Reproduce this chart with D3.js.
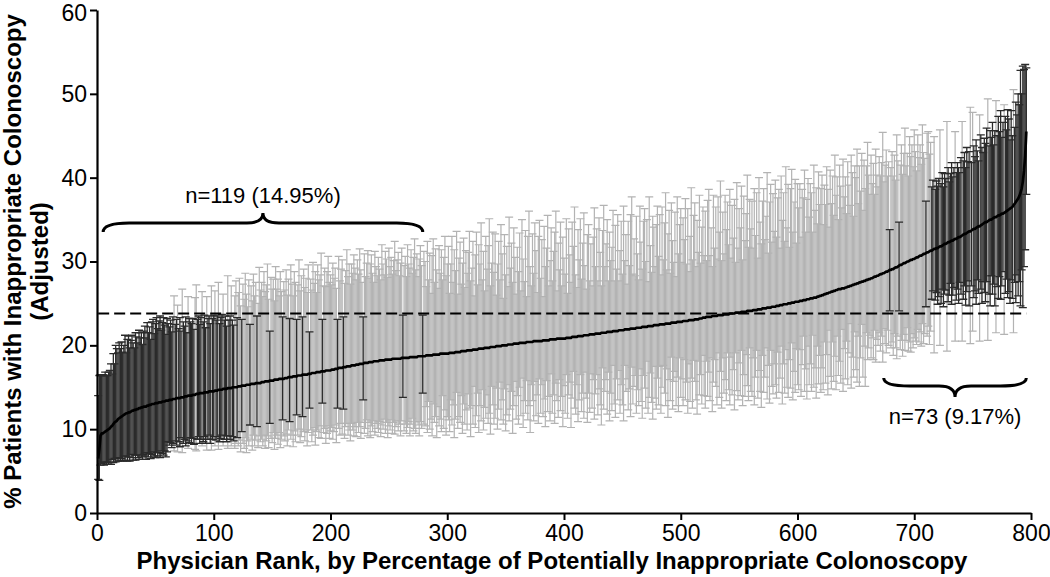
<!DOCTYPE html>
<html>
<head>
<meta charset="utf-8">
<script src="https://cdn.jsdelivr.net/npm/d3@7"></script>
<style>
  body { margin: 0; background: #fff; }
  svg text { font-family: "Liberation Sans", Arial, Helvetica, sans-serif; fill: #000; }
</style>
</head>
<body>
<svg id="chart" width="1050" height="577"></svg>
<script>
// adjusted % of potentially inappropriate colonoscopy, one value per physician, sorted by rank
const estimate = [
  6.5, 7.6, 9.2, 9.5, 9.5, 9.6, 9.7, 9.8, 9.9, 10.0, 10.1, 10.3, 10.4, 10.6, 10.8, 10.9, 11.0, 11.2, 11.3, 11.4,
  11.5, 11.6, 11.7, 11.8, 11.9, 11.9, 12.0, 12.0, 12.1, 12.2, 12.2, 12.3, 12.3, 12.4, 12.4, 12.5, 12.5, 12.6, 12.6, 12.7,
  12.7, 12.7, 12.8, 12.8, 12.9, 12.9, 13.0, 13.0, 13.0, 13.1, 13.1, 13.1, 13.2, 13.2, 13.2, 13.3, 13.3, 13.3, 13.4, 13.4,
  13.4, 13.5, 13.5, 13.5, 13.6, 13.6, 13.6, 13.7, 13.7, 13.7, 13.7, 13.8, 13.8, 13.8, 13.9, 13.9, 13.9, 14.0, 14.0, 14.0,
  14.0, 14.1, 14.1, 14.1, 14.2, 14.2, 14.2, 14.3, 14.3, 14.3, 14.3, 14.4, 14.4, 14.4, 14.4, 14.5, 14.5, 14.5, 14.5, 14.5,
  14.6, 14.6, 14.6, 14.7, 14.7, 14.7, 14.7, 14.8, 14.8, 14.8, 14.8, 14.9, 14.9, 14.9, 14.9, 15.0, 15.0, 15.0, 15.0, 15.0,
  15.1, 15.1, 15.1, 15.2, 15.2, 15.2, 15.2, 15.3, 15.3, 15.3, 15.3, 15.4, 15.4, 15.4, 15.4, 15.5, 15.5, 15.5, 15.5, 15.5,
  15.6, 15.6, 15.6, 15.7, 15.7, 15.7, 15.7, 15.8, 15.8, 15.8, 15.8, 15.9, 15.9, 15.9, 15.9, 16.0, 16.0, 16.0, 16.0, 16.0,
  16.1, 16.1, 16.1, 16.2, 16.2, 16.2, 16.2, 16.3, 16.3, 16.3, 16.3, 16.4, 16.4, 16.4, 16.4, 16.5, 16.5, 16.5, 16.5, 16.5,
  16.6, 16.6, 16.6, 16.7, 16.7, 16.7, 16.7, 16.8, 16.8, 16.8, 16.8, 16.9, 16.9, 16.9, 16.9, 17.0, 17.0, 17.0, 17.0, 17.0,
  17.1, 17.1, 17.1, 17.2, 17.2, 17.2, 17.3, 17.3, 17.3, 17.3, 17.4, 17.4, 17.4, 17.5, 17.5, 17.5, 17.5, 17.6, 17.6, 17.6,
  17.6, 17.7, 17.7, 17.7, 17.8, 17.8, 17.8, 17.8, 17.9, 17.9, 17.9, 17.9, 18.0, 18.0, 18.0, 18.0, 18.1, 18.1, 18.1, 18.1,
  18.1, 18.2, 18.2, 18.2, 18.2, 18.2, 18.3, 18.3, 18.3, 18.3, 18.3, 18.3, 18.4, 18.4, 18.4, 18.4, 18.4, 18.4, 18.4, 18.4,
  18.5, 18.5, 18.5, 18.5, 18.5, 18.5, 18.5, 18.6, 18.6, 18.6, 18.6, 18.6, 18.6, 18.6, 18.7, 18.7, 18.7, 18.7, 18.7, 18.7,
  18.7, 18.8, 18.8, 18.8, 18.8, 18.8, 18.8, 18.9, 18.9, 18.9, 18.9, 18.9, 18.9, 19.0, 19.0, 19.0, 19.0, 19.0, 19.0, 19.0,
  19.0, 19.1, 19.1, 19.1, 19.1, 19.1, 19.2, 19.2, 19.2, 19.2, 19.2, 19.3, 19.3, 19.3, 19.3, 19.3, 19.4, 19.4, 19.4, 19.4,
  19.4, 19.5, 19.5, 19.5, 19.5, 19.5, 19.6, 19.6, 19.6, 19.6, 19.6, 19.7, 19.7, 19.7, 19.7, 19.7, 19.8, 19.8, 19.8, 19.8,
  19.8, 19.9, 19.9, 19.9, 19.9, 19.9, 20.0, 20.0, 20.0, 20.0, 20.0, 20.1, 20.1, 20.1, 20.1, 20.1, 20.2, 20.2, 20.2, 20.2,
  20.2, 20.3, 20.3, 20.3, 20.3, 20.3, 20.3, 20.4, 20.4, 20.4, 20.4, 20.4, 20.4, 20.5, 20.5, 20.5, 20.5, 20.5, 20.5, 20.5,
  20.5, 20.6, 20.6, 20.6, 20.6, 20.6, 20.6, 20.7, 20.7, 20.7, 20.7, 20.7, 20.7, 20.8, 20.8, 20.8, 20.8, 20.8, 20.8, 20.8,
  20.8, 20.9, 20.9, 20.9, 20.9, 20.9, 21.0, 21.0, 21.0, 21.0, 21.0, 21.1, 21.1, 21.1, 21.1, 21.1, 21.2, 21.2, 21.2, 21.2,
  21.2, 21.3, 21.3, 21.3, 21.3, 21.3, 21.4, 21.4, 21.4, 21.4, 21.4, 21.5, 21.5, 21.5, 21.5, 21.5, 21.6, 21.6, 21.6, 21.6,
  21.6, 21.7, 21.7, 21.7, 21.7, 21.7, 21.8, 21.8, 21.8, 21.8, 21.8, 21.9, 21.9, 21.9, 21.9, 21.9, 22.0, 22.0, 22.0, 22.0,
  22.0, 22.1, 22.1, 22.1, 22.1, 22.1, 22.2, 22.2, 22.2, 22.2, 22.2, 22.3, 22.3, 22.3, 22.3, 22.3, 22.4, 22.4, 22.4, 22.4,
  22.4, 22.5, 22.5, 22.5, 22.5, 22.5, 22.6, 22.6, 22.6, 22.6, 22.6, 22.7, 22.7, 22.7, 22.7, 22.7, 22.8, 22.8, 22.8, 22.8,
  22.8, 22.9, 22.9, 22.9, 22.9, 22.9, 23.0, 23.0, 23.0, 23.0, 23.0, 23.1, 23.1, 23.1, 23.1, 23.2, 23.2, 23.2, 23.3, 23.3,
  23.3, 23.4, 23.4, 23.4, 23.4, 23.4, 23.5, 23.5, 23.5, 23.5, 23.5, 23.6, 23.6, 23.6, 23.6, 23.6, 23.7, 23.7, 23.7, 23.7,
  23.7, 23.8, 23.8, 23.8, 23.8, 23.8, 23.9, 23.9, 23.9, 23.9, 23.9, 24.0, 24.0, 24.0, 24.0, 24.0, 24.1, 24.1, 24.1, 24.1,
  24.1, 24.2, 24.2, 24.2, 24.2, 24.3, 24.3, 24.3, 24.3, 24.4, 24.4, 24.4, 24.4, 24.5, 24.5, 24.5, 24.5, 24.6, 24.6, 24.6,
  24.6, 24.7, 24.7, 24.7, 24.8, 24.8, 24.8, 24.9, 24.9, 24.9, 24.9, 25.0, 25.0, 25.0, 25.1, 25.1, 25.1, 25.2, 25.2, 25.2,
  25.2, 25.3, 25.3, 25.3, 25.4, 25.4, 25.4, 25.5, 25.5, 25.5, 25.6, 25.6, 25.6, 25.7, 25.7, 25.7, 25.8, 25.8, 25.9, 25.9,
  26.0, 26.0, 26.1, 26.1, 26.2, 26.2, 26.3, 26.3, 26.4, 26.4, 26.5, 26.5, 26.6, 26.6, 26.7, 26.7, 26.7, 26.8, 26.8, 26.8,
  26.9, 26.9, 27.0, 27.0, 27.1, 27.1, 27.2, 27.2, 27.3, 27.3, 27.4, 27.4, 27.5, 27.5, 27.6, 27.6, 27.7, 27.7, 27.8, 27.8,
  27.9, 27.9, 28.0, 28.0, 28.1, 28.2, 28.2, 28.3, 28.3, 28.4, 28.5, 28.5, 28.6, 28.6, 28.7, 28.8, 28.8, 28.9, 29.0, 29.0,
  29.1, 29.1, 29.2, 29.3, 29.3, 29.4, 29.5, 29.6, 29.6, 29.7, 29.8, 29.8, 29.9, 30.0, 30.0, 30.1, 30.2, 30.2, 30.3, 30.3,
  30.4, 30.5, 30.5, 30.6, 30.7, 30.7, 30.8, 30.9, 30.9, 31.0, 31.1, 31.1, 31.2, 31.3, 31.3, 31.4, 31.5, 31.5, 31.6, 31.6,
  31.7, 31.8, 31.8, 31.9, 32.0, 32.1, 32.1, 32.2, 32.3, 32.3, 32.4, 32.5, 32.5, 32.6, 32.7, 32.7, 32.8, 32.9, 32.9, 33.0,
  33.1, 33.2, 33.3, 33.3, 33.4, 33.5, 33.6, 33.6, 33.7, 33.8, 33.9, 33.9, 34.0, 34.1, 34.2, 34.2, 34.3, 34.4, 34.5, 34.6,
  34.7, 34.7, 34.8, 34.9, 35.0, 35.0, 35.1, 35.2, 35.3, 35.3, 35.4, 35.5, 35.5, 35.6, 35.7, 35.7, 35.8, 35.9, 36.0, 36.1,
  36.2, 36.3, 36.4, 36.5, 36.7, 36.9, 37.1, 37.3, 37.5, 37.8, 38.2, 38.7, 39.5, 40.8, 42.6, 45.5
];

// distance from the estimate up to the upper confidence limit
const errAbove = [
  7.5, 8.8, 7.3, 6.9, 7.0, 6.8, 7.1, 6.6, 6.5, 6.8, 6.9, 7.5, 6.2, 8.4, 7.0, 9.1, 8.6, 7.9, 9.0, 8.2,
  8.9, 7.6, 8.3, 9.4, 7.2, 8.8, 9.1, 7.7, 8.5, 9.0, 8.1, 7.4, 9.2, 8.6, 7.9, 9.3, 8.4, 8.9, 7.5, 9.0,
  9.6, 8.2, 9.9, 8.7, 9.3, 7.8, 9.8, 10.1, 8.4, 9.5, 10.2, 8.9, 9.7, 10.3, 8.6, 9.4, 10.0, 9.1, 7.9, 9.8,
  9.2, 8.7, 9.5, 8.1, 9.8, 12.3, 8.9, 9.4, 11.1, 8.3, 9.6, 7.9, 12.9, 9.0, 8.4, 9.5, 7.6, 11.8, 9.2, 8.8,
  8.6, 9.1, 7.8, 11.6, 13.0, 8.9, 9.3, 8.2, 9.0, 12.1, 8.5, 9.2, 7.7, 11.4, 8.8, 9.0, 8.1, 12.6, 8.7, 9.1,
  11.9, 8.4, 8.9, 12.8, 7.9, 8.6, 9.0, 11.3, 8.2, 8.7, 7.5, 13.4, 8.1, 8.6, 12.2, 8.0, 7.4, 10.9, 12.7, 8.3,
  11.2, 12.9, 9.6, 7.9, 12.1, 10.3, 13.4, 10.8, 9.3, 12.5, 7.2, 11.7, 9.9, 13.1, 10.5, 12.0, 8.0, 9.5, 13.8, 11.1,
  11.9, 10.2, 13.2, 10.7, 11.5, 14.0, 9.8, 5.9, 12.3, 10.9, 12.1, 9.4, 13.5, 10.8, 12.0, 9.9, 12.8, 10.4, 7.4, 11.6,
  10.5, 12.9, 9.9, 11.7, 7.0, 13.4, 11.1, 9.6, 12.5, 11.2, 6.8, 10.8, 13.8, 10.1, 11.9, 6.9, 12.6, 10.4, 11.5, 9.8,
  13.0, 5.0, 11.3, 9.9, 13.2, 10.7, 12.1, 9.5, 12.8, 11.0, 11.6, 14.1, 6.2, 10.2, 12.3, 10.0, 11.8, 13.6, 10.5, 11.4,
  10.1, 12.7, 10.9, 12.0, 9.6, 5.9, 13.3, 10.4, 11.8, 12.9, 6.0, 10.0, 11.5, 13.9, 10.7, 12.2, 9.8, 12.1, 11.0, 13.2,
  11.6, 10.1, 12.5, 10.8, 13.7, 11.2, 9.7, 5.6, 13.0, 10.3, 11.9, 13.4, 10.0, 11.7, 12.8, 10.6, 9.4, 13.1, 11.3, 10.2,
  12.4, 10.9, 9.6, 13.8, 11.5, 10.2, 12.9, 12.0, 9.8, 13.3, 11.1, 12.2, 10.1, 11.7, 14.0, 10.5, 11.8, 12.7, 9.9, 11.4,
  13.1, 5.1, 11.0, 12.1, 9.7, 13.5, 11.2, 10.6, 12.8, 10.0, 11.9, 14.1, 10.4, 12.3, 9.5, 11.6, 13.2, 10.8, 4.9, 12.5,
  11.3, 8.2, 13.6, 9.0, 12.2, 7.4, 11.9, 13.8, 8.6, 12.6, 10.1, 7.9, 13.0, 9.6, 12.4, 8.8, 11.5, 14.0, 9.3, 10.7,
  12.8, 7.1, 10.6, 13.9, 8.4, 12.3, 9.7, 14.4, 6.9, 11.2, 13.1, 8.0, 10.5, 13.5, 7.6, 12.0, 9.2, 11.7, 14.2, 8.3,
  9.8, 12.9, 6.4, 11.3, 14.0, 7.7, 12.4, 10.1, 15.0, 8.2, 11.6, 6.8, 13.3, 9.4, 12.2, 15.4, 7.3, 10.0, 13.7, 8.9,
  13.5, 6.1, 9.8, 12.5, 7.9, 14.5, 10.9, 5.6, 13.2, 8.4, 11.8, 6.9, 15.2, 9.1, 12.1, 7.4, 13.8, 10.3, 5.9, 11.5,
  8.6, 13.1, 6.2, 14.7, 10.0, 7.3, 13.4, 5.4, 12.6, 15.6, 9.0, 6.7, 12.9, 8.1, 14.1, 10.8, 5.8, 12.5, 14.4, 7.5,
  12.1, 5.2, 13.6, 8.8, 11.0, 14.9, 6.5, 9.4, 13.3, 7.0, 10.5, 12.8, 15.3, 5.7, 11.4, 8.2, 13.9, 6.3, 12.1, 9.6,
  7.7, 14.2, 5.3, 13.0, 9.9, 6.6, 13.7, 10.8, 15.5, 7.4, 5.9, 12.7, 9.1, 14.0, 6.8, 11.1, 14.6, 8.3, 5.5, 12.0,
  13.2, 6.4, 10.8, 5.8, 11.6, 15.1, 8.0, 12.5, 6.3, 13.8, 9.7, 5.6, 12.2, 15.2, 7.9, 10.6, 13.4, 6.1, 11.9, 8.5,
  10.1, 14.4, 6.0, 12.6, 7.4, 13.9, 5.9, 9.5, 13.0, 6.7, 14.8, 8.2, 11.3, 5.4, 12.9, 7.6, 13.6, 15.7, 6.5, 10.7,
  6.3, 13.3, 8.8, 5.7, 14.5, 10.2, 6.9, 12.6, 14.1, 7.8, 12.8, 5.3, 15.4, 9.6, 6.4, 13.1, 11.7, 7.0, 12.0, 14.2,
  8.2, 13.1, 5.9, 14.0, 7.7, 12.1, 15.6, 6.4, 10.7, 13.5, 6.0, 14.3, 9.8, 7.2, 13.2, 5.5, 14.9, 8.1, 11.6, 13.5,
  7.1, 12.3, 9.7, 14.6, 6.8, 13.4, 5.8, 10.0, 15.8, 7.2, 12.5, 13.9, 6.3, 11.8, 8.0, 14.7, 6.6, 10.9, 13.2, 7.4,
  12.7, 6.7, 13.9, 15.2, 7.3, 10.6, 5.9, 14.4, 8.1, 13.0, 6.8, 14.1, 9.9, 16.0, 6.5, 12.3, 7.2, 14.2, 10.1, 13.4,
  8.3, 14.8, 6.6, 12.9, 9.0, 13.6, 6.0, 15.5, 7.7, 12.4, 10.1, 15.0, 6.2, 13.8, 8.5, 11.7, 16.2, 7.6, 13.3, 9.8,
  13.1, 7.4, 14.5, 8.9, 14.0, 6.1, 15.7, 10.4, 7.8, 12.8, 14.3, 8.2, 11.0, 16.1, 6.5, 12.6, 14.7, 7.7, 13.5, 9.0,
  15.1, 8.2, 12.9, 13.9, 6.8, 15.4, 10.1, 13.3, 7.5, 16.4, 9.1, 14.2, 6.7, 13.7, 15.9, 8.4, 12.0, 14.6, 7.0, 14.1,
  11.2, 14.0, 7.6, 13.3, 12.2, 15.5, 8.1, 11.9, 14.4, 9.8, 13.7, 12.6, 7.9, 15.8, 10.4, 13.1, 8.7, 14.9, 10.9, 12.8,
  14.3, 8.4, 13.0, 10.7, 15.1, 12.4, 7.8, 14.6, 10.5, 13.8, 9.0, 16.2, 11.3, 13.5, 8.3, 14.8, 12.3, 9.6, 15.4, 10.9,
  13.2, 8.8, 14.9, 12.1, 9.6, 15.6, 13.4, 8.2, 14.1, 12.7, 16.0, 9.5, 13.9, 10.9, 15.3, 8.5, 14.4, 11.0, 13.6, 16.4,
  12.4, 10.1, 14.7, 11.3, 13.6, 9.8, 15.2, 12.0, 10.6, 14.1, 11.7, 13.3, 16.8, 10.9, 12.8, 14.5, 11.4, 13.0, 4.8, 12.2,
  14.0, 11.1, 13.5, 10.4, 15.8, 12.6, 5.2, 11.9, 14.3, 10.7, 13.1, 16.1, 11.5, 12.9, 10.2, 14.8, 12.3, 13.7, 11.0, 15.4,
  12.7, 10.3, 14.6, 11.8, 13.2, 10.9, 15.5, 12.1, 11.4, 6.2, 14.2, 14.4, 11.6, 12.9, 7.6, 8.3, 13.4, 7.1, 8.0, 7.4,
  8.2, 13.9, 7.5, 8.7, 6.9, 8.4, 7.8, 14.5, 8.9, 7.2, 8.1, 9.3, 7.6, 8.6, 12.8, 7.9, 9.0, 8.3, 7.7, 9.4,
  13.6, 8.8, 9.7, 7.9, 10.2, 8.4, 9.5, 14.8, 8.1, 14.0, 9.9, 8.6, 10.5, 9.1, 7.8, 13.3, 10.8, 9.2, 8.5, 10.1,
  9.4, 11.2, 14.6, 8.9, 10.6, 9.8, 11.5, 8.7, 10.3, 13.9, 9.6, 11.8, 10.0, 12.4, 9.1, 10.9, 12.9, 11.4, 9.7, 12.0,
  10.8, 8.2, 11.6, 8.5, 13.8, 9.1, 11.9, 10.2, 12.5, 10.9, 14.6, 11.3, 13.8, 12.1, 10.9, 7.6
];

// distance from the estimate down to the lower confidence limit
const errBelow = [
  2.5, 3.7, 3.5, 3.6, 3.4, 3.9, 3.7, 4.0, 3.8, 4.2, 4.1, 4.5, 4.0, 4.6, 4.3, 4.8, 4.5, 5.0, 4.7, 5.2,
  5.0, 5.4, 4.9, 5.5, 5.2, 5.7, 5.3, 5.8, 5.1, 5.6, 5.9, 5.4, 6.0, 5.5, 5.8, 6.1, 5.6, 5.9, 6.2, 5.7,
  5.9, 6.3, 5.6, 6.1, 5.8, 6.4, 6.0, 5.7, 6.2, 6.5, 5.9, 6.3, 6.0, 6.6, 5.8, 6.2, 6.4, 5.9, 6.7, 6.1,
  4.9, 5.4, 5.1, 5.7, 5.3, 6.2, 5.0, 5.6, 6.4, 5.2, 5.8, 4.8, 6.6, 5.5, 5.1, 5.9, 5.3, 6.3, 5.6, 5.0,
  5.7, 5.2, 5.9, 6.5, 6.8, 5.4, 5.1, 6.0, 5.5, 6.3, 5.8, 5.3, 6.1, 6.9, 5.6, 5.2, 6.2, 7.0, 5.7, 5.4,
  6.6, 5.9, 5.5, 7.1, 6.2, 5.8, 5.4, 6.8, 6.0, 5.6, 6.3, 7.2, 5.7, 6.1, 6.9, 5.9, 6.4, 7.3, 6.7, 6.0,
  7.1, 6.4, 7.8, 5.5, 6.9, 7.5, 6.2, 8.1, 6.7, 7.3, 4.8, 6.6, 7.9, 6.1, 7.4, 6.8, 5.2, 7.7, 6.3, 7.0,
  6.8, 7.6, 6.3, 8.0, 7.1, 6.5, 7.9, 5.1, 6.9, 7.4, 6.2, 8.3, 7.0, 6.6, 7.7, 6.4, 8.2, 7.2, 4.9, 6.8,
  7.5, 6.7, 8.1, 6.3, 5.3, 7.4, 6.9, 8.4, 6.5, 7.8, 4.6, 7.1, 6.4, 8.0, 7.3, 5.0, 6.8, 7.9, 6.6, 8.5,
  7.0, 4.1, 6.7, 8.2, 7.4, 6.5, 8.6, 7.1, 6.9, 7.8, 6.4, 8.0, 3.8, 7.3, 6.8, 8.7, 7.5, 6.6, 8.1, 7.2,
  6.9, 8.3, 7.4, 6.7, 8.8, 4.7, 7.2, 8.0, 6.6, 7.9, 5.0, 8.5, 7.1, 6.8, 8.2, 7.6, 8.9, 6.9, 7.7, 8.4,
  7.3, 8.6, 6.9, 8.1, 7.5, 8.9, 7.0, 4.3, 8.4, 7.8, 6.8, 8.7, 7.2, 9.0, 7.6, 8.3, 7.1, 8.8, 7.4, 8.0,
  8.5, 7.3, 9.1, 7.7, 8.2, 7.0, 8.8, 7.5, 9.3, 7.9, 8.4, 7.2, 8.9, 7.6, 9.0, 8.1, 7.4, 8.6, 7.8, 9.2,
  7.5, 4.7, 8.7, 7.9, 9.0, 8.3, 7.6, 9.4, 8.0, 7.3, 8.8, 8.5, 9.1, 7.7, 8.2, 9.5, 7.8, 8.6, 4.4, 8.1,
  8.3, 6.1, 9.2, 5.5, 8.8, 7.6, 9.6, 5.9, 8.1, 7.4, 9.9, 6.2, 8.5, 7.8, 9.3, 5.0, 8.9, 6.7, 9.7, 7.5,
  7.9, 9.4, 5.6, 8.6, 6.2, 10.1, 8.0, 4.8, 9.1, 7.7, 8.4, 5.3, 9.8, 6.3, 8.7, 7.0, 9.5, 5.2, 6.9, 10.3,
  6.6, 8.9, 4.4, 9.3, 7.9, 5.2, 10.0, 6.8, 8.6, 4.9, 9.7, 7.1, 8.4, 5.6, 9.0, 7.8, 10.4, 4.7, 6.9, 9.2,
  8.5, 5.0, 9.9, 7.5, 4.3, 8.8, 6.5, 9.4, 5.2, 10.2, 8.3, 4.8, 9.1, 7.7, 5.6, 10.6, 7.4, 4.5, 9.0, 6.2,
  9.6, 5.3, 8.7, 4.2, 10.1, 6.9, 8.4, 4.6, 9.3, 7.6, 10.8, 5.1, 7.0, 9.5, 4.8, 8.9, 6.4, 9.8, 4.5, 8.6,
  5.2, 9.1, 7.0, 10.3, 4.8, 8.5, 6.7, 9.7, 4.1, 8.8, 6.6, 10.0, 5.2, 7.4, 9.4, 4.9, 8.6, 6.9, 10.5, 5.6,
  8.9, 4.4, 9.6, 6.8, 5.3, 10.7, 7.3, 4.1, 8.5, 9.2, 5.7, 10.2, 7.6, 4.6, 9.0, 6.8, 9.9, 4.4, 7.5, 10.4,
  6.9, 9.3, 4.7, 8.8, 5.4, 10.1, 7.2, 4.9, 9.7, 6.6, 8.5, 11.0, 4.2, 9.1, 7.0, 5.6, 9.8, 4.8, 10.6, 7.3,
  9.4, 4.1, 8.7, 10.3, 5.7, 8.2, 4.8, 9.9, 6.5, 8.9, 10.8, 4.3, 7.4, 5.9, 9.6, 7.1, 10.5, 4.6, 9.0, 6.9,
  5.6, 10.2, 7.4, 9.3, 4.9, 8.8, 10.9, 5.8, 7.3, 9.7, 4.1, 10.4, 8.5, 5.6, 9.1, 11.1, 4.9, 8.7, 10.0, 6.3,
  9.5, 5.0, 10.6, 7.5, 4.9, 8.2, 9.8, 5.4, 11.2, 6.7, 9.2, 4.1, 10.3, 7.0, 5.8, 9.9, 6.6, 10.7, 4.3, 9.0,
  6.8, 10.1, 4.6, 9.4, 7.3, 11.0, 5.2, 9.7, 6.9, 10.5, 4.8, 7.4, 9.6, 11.3, 5.0, 9.1, 6.7, 10.2, 4.5, 9.3,
  10.8, 5.3, 9.5, 6.6, 10.0, 4.9, 11.4, 7.9, 5.2, 8.4, 10.6, 4.5, 9.8, 6.7, 11.1, 5.1, 9.4, 7.8, 10.3, 4.6,
  9.0, 10.9, 5.2, 9.7, 6.7, 11.5, 4.8, 9.3, 10.4, 6.0, 9.9, 4.6, 11.2, 7.5, 10.1, 5.1, 8.9, 10.7, 4.4, 9.6,
  10.2, 5.7, 11.3, 8.0, 4.8, 10.6, 7.3, 9.8, 11.7, 5.6, 10.0, 8.2, 4.7, 10.9, 6.9, 11.4, 5.1, 9.5, 10.4, 6.8,
  9.3, 11.0, 5.5, 10.3, 8.7, 4.9, 11.8, 7.1, 10.6, 5.4, 9.9, 11.2, 6.7, 10.1, 4.8, 11.6, 8.2, 10.8, 5.6, 9.9,
  10.5, 5.8, 11.4, 7.6, 4.3, 10.9, 8.2, 11.9, 5.6, 10.2, 7.8, 11.1, 4.4, 10.7, 8.4, 12.0, 5.9, 10.4, 7.1, 11.5,
  8.7, 11.3, 5.7, 10.6, 7.3, 12.1, 4.5, 10.0, 11.6, 6.0, 10.8, 7.8, 11.9, 5.5, 10.3, 8.6, 11.2, 4.9, 12.3, 7.2,
  10.9, 6.4, 11.7, 7.9, 4.5, 12.2, 8.6, 11.0, 5.7, 10.2, 11.8, 6.3, 12.4, 9.0, 5.1, 11.4, 7.8, 12.6, 6.3, 9.5,
  8.2, 6.7, 9.5, 7.1, 9.8, 6.4, 10.2, 7.6, 8.3, 6.9, 9.2, 7.4, 10.6, 6.6, 8.5, 9.7, 7.0, 8.9, 4.9, 9.3,
  8.7, 10.3, 7.8, 9.6, 10.9, 8.3, 5.4, 10.1, 9.0, 11.0, 8.5, 10.4, 9.3, 7.9, 10.7, 9.7, 11.0, 8.8, 10.6, 9.4,
  9.9, 10.4, 8.6, 10.2, 9.1, 10.8, 8.2, 10.7, 9.5, 6.4, 10.0, 8.8, 11.1, 9.6, 5.8, 4.9, 12.4, 6.1, 5.3, 6.7,
  5.9, 11.8, 6.8, 5.2, 7.4, 6.0, 5.5, 12.9, 7.1, 6.3, 5.0, 7.6, 6.5, 5.7, 12.2, 7.3, 6.1, 7.9, 5.4, 6.9,
  12.6, 7.7, 6.2, 8.5, 7.0, 5.8, 8.9, 13.4, 6.6, 12.1, 8.2, 7.4, 9.1, 6.3, 8.0, 13.7, 7.6, 9.4, 6.9, 8.3,
  9.5, 7.1, 14.2, 8.8, 10.3, 6.7, 9.0, 7.9, 10.6, 13.8, 8.4, 9.9, 7.3, 10.1, 8.6, 6.9, 14.5, 9.7, 8.1, 10.4,
  9.8, 11.3, 8.6, 10.9, 15.2, 9.4, 12.0, 8.9, 11.6, 10.2, 13.5, 9.7, 15.0, 11.4, 11.2, 7.5
];

const overallMean = 23.8;              // mean of all physicians (dashed line)
const xTicks = [0, 100, 200, 300, 400, 500, 600, 700, 800];
const yTicks = [0, 10, 20, 30, 40, 50, 60];
const xTitle = 'Physician Rank, by Percentage of Potentially Inappropriate Colonoscopy';
const yTitle = ['% Patients with Inappropriate Colonoscopy', '(Adjusted)'];

const width = 1050, height = 577;
const margin = {top: 10, right: 19, bottom: 64, left: 97};

const svg = d3.select('#chart');
svg.append('rect').attr('width', width).attr('height', height).attr('fill', '#fff');

const x = d3.scaleLinear().domain([0, 800]).range([margin.left, width - margin.right]);
const y = d3.scaleLinear().domain([0, 60]).range([height - margin.bottom, margin.top]);

const physicians = estimate.map((v, i) => {
    const lo = +(v - errBelow[i]).toFixed(1);
    const hi = +(v + errAbove[i]).toFixed(1);
    let group = 'mid';
    if (hi < overallMean) group = 'low';
    else if (lo > overallMean) group = 'high';
    return {rank: i + 1, est: v, lo, hi, group};
});

const total = physicians.length;

// error bars, grey first, significant ones on top
const cap = 4;
const barPath = (d) => {
    const cx = x(d.rank), y0 = y(d.lo), y1 = y(d.hi);
    return `M${cx},${y0}V${y1}M${cx - cap},${y1}H${cx + cap}M${cx - cap},${y0}H${cx + cap}`;
};

svg.append('g')
    .attr('fill', 'none')
    .attr('stroke', '#b3b3b3')
    .attr('stroke-width', 1.2)
    .selectAll('path')
    .data(physicians.filter((d) => d.group === 'mid'))
    .join('path')
    .attr('d', barPath);

svg.append('g')
    .attr('fill', 'none')
    .attr('stroke', '#2b2b2b')
    .attr('stroke-width', 1.3)
    .selectAll('path')
    .data(physicians.filter((d) => d.group !== 'mid'))
    .join('path')
    .attr('d', barPath);

// mean line
svg.append('line')
    .attr('x1', x(1)).attr('x2', x(total))
    .attr('y1', y(overallMean)).attr('y2', y(overallMean))
    .attr('stroke', '#000')
    .attr('stroke-width', 2.2)
    .attr('stroke-dasharray', '11,5');

// ranked estimates
svg.append('path')
    .datum(physicians)
    .attr('fill', 'none')
    .attr('stroke', '#000')
    .attr('stroke-width', 2.7)
    .attr('stroke-linejoin', 'round')
    .attr('d', d3.line().x((d) => x(d.rank)).y((d) => y(d.est)));

// axes
const xAxis = svg.append('g')
    .attr('transform', `translate(0,${height - margin.bottom})`)
    .call(d3.axisBottom(x).tickValues(xTicks).tickSize(7).tickSizeOuter(0).tickPadding(5));

const yAxis = svg.append('g')
    .attr('transform', `translate(${margin.left},0)`)
    .call(d3.axisLeft(y).tickValues(yTicks).tickSize(7).tickSizeOuter(0).tickPadding(3));

[xAxis, yAxis].forEach((g) => {
    g.select('.domain').attr('stroke', '#000').attr('stroke-width', 2.2);
    g.selectAll('.tick line').attr('stroke', '#000').attr('stroke-width', 2);
    g.selectAll('.tick text').attr('font-size', 23).attr('font-family', null).attr('fill', '#000');
});

// keep the top tick label inside the frame
yAxis.selectAll('.tick text').filter((d) => d === d3.max(yTicks)).attr('dy', '0.46em');

svg.append('text')
    .attr('x', 552)
    .attr('y', 569)
    .attr('text-anchor', 'middle')
    .attr('font-size', 24)
    .attr('font-weight', 'bold')
    .text(xTitle);

const yMid = (y(0) + y(60)) / 2;
svg.append('g')
    .attr('transform', `translate(0,${yMid}) rotate(-90)`)
    .selectAll('text')
    .data(yTitle)
    .join('text')
    .attr('x', 0)
    .attr('y', (d, i) => 21 + i * 27)
    .attr('text-anchor', 'middle')
    .attr('font-size', 24)
    .attr('font-weight', 'bold')
    .text((d) => d);

// curly braces over the significant groups
const brace = (x1, x2, y0, end, tip) => {
    const xm = (x1 + x2) / 2, r = 26, rt = 16;
    return `M${x1},${y0 + end}Q${x1},${y0} ${x1 + r},${y0}` +
        `L${xm - rt},${y0}Q${xm},${y0} ${xm},${y0 - tip}` +
        `Q${xm},${y0} ${xm + rt},${y0}L${x2 - r},${y0}Q${x2},${y0} ${x2},${y0 + end}`;
};

const low = physicians.filter((d) => d.group === 'low');
const high = physicians.filter((d) => d.group === 'high');
const pct = (n) => (n / total * 100).toFixed(2);

const braces = [
    {x1: x(d3.min(low, (d) => d.rank)) + 5, x2: x(d3.max(low, (d) => d.rank)), y0: 223, end: 9, tip: 10,
        label: `n=${low.length} (${pct(low.length)}%)`, ty: 203},
    {x1: x(d3.min(high, (d) => d.rank)) - 6, x2: x(d3.max(high, (d) => d.rank)), y0: 386, end: -8, tip: -11,
        label: `n=${high.length} (${pct(high.length)}%)`, ty: 424}
];

svg.append('g')
    .selectAll('path')
    .data(braces)
    .join('path')
    .attr('fill', 'none')
    .attr('stroke', '#000')
    .attr('stroke-width', 3)
    .attr('d', (d) => brace(d.x1, d.x2, d.y0, d.end, d.tip));

svg.append('g')
    .selectAll('text')
    .data(braces)
    .join('text')
    .attr('x', (d) => (d.x1 + d.x2) / 2)
    .attr('y', (d) => d.ty)
    .attr('text-anchor', 'middle')
    .attr('font-size', 22)
    .text((d) => d.label);
</script>
</body>
</html>
